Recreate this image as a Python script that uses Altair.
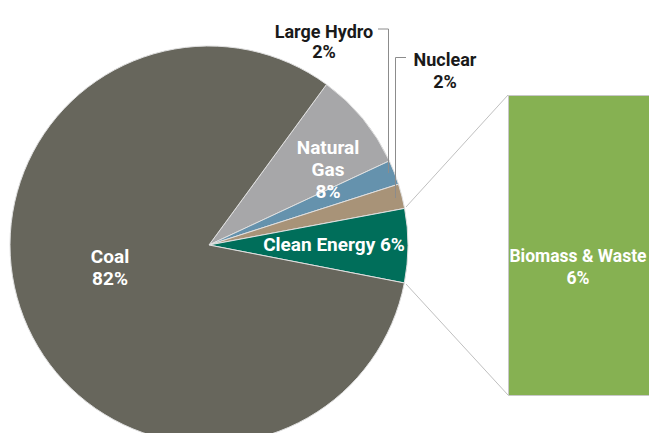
import math
import altair as alt
import pandas as pd

# ---- data ----
categories = ["Natural Gas", "Large Hydro", "Nuclear", "Clean Energy", "Coal"]
shares = [8, 2, 2, 6, 82]
colors = ["#A7A7A9", "#6592AD", "#A89378", "#006E5A", "#67665C"]
breakdown_names = ["Biomass & Waste"]
breakdown_values = [6]

pie_df = pd.DataFrame({"category": categories, "share": shares, "order": list(range(len(categories)))})
bar_df = pd.DataFrame({"name": breakdown_names, "value": breakdown_values})

# chart area = page (657x441) minus the 8px body margin on each side
W, H = 641, 425
CX, CY, R = 201, 237, 199
START = math.radians(36.2)
FONT = "Roboto"
FS = 19
LH = 22

pie = alt.Chart(pie_df).mark_arc(radius=R, stroke="#E0E0E0", strokeWidth=1).encode(
    theta=alt.Theta("share:Q", stack=True, scale=alt.Scale(range=[START, START + 2 * math.pi])),
    order=alt.Order("order:Q"),
    color=alt.Color("category:N", scale=alt.Scale(domain=categories, range=colors), legend=None),
    x=alt.value(CX),
    y=alt.value(CY),
)

labels_df = pie_df.copy()
labels_df["two"] = labels_df["category"] + "\n" + labels_df["share"].astype(str) + "%"
labels_df["one"] = labels_df["category"] + " " + labels_df["share"].astype(str) + "%"
labels_df["gas"] = labels_df["category"].str.replace(" ", "\n") + "\n" + labels_df["share"].astype(str) + "%"


def text_layer(df, field, x, y, color, lh=LH, fs=FS):
    return alt.Chart(df).mark_text(
        font=FONT, fontSize=fs, fontWeight="bold", color=color, lineBreak="\n",
        align="center", baseline="middle", lineHeight=lh
    ).encode(text=alt.Text(field), x=alt.value(x), y=alt.value(y))


coal_t = text_layer(labels_df[labels_df.category == "Coal"], "two", 102, 249, "white")
gas_t = text_layer(labels_df[labels_df.category == "Natural Gas"], "gas", 320, 140, "white")
clean_t = text_layer(labels_df[labels_df.category == "Clean Energy"], "one", 326, 237, "white")
hydro_t = text_layer(labels_df[labels_df.category == "Large Hydro"], "two", 316, 25, "#1A1A1A", 20, 18)
nuc_t = text_layer(labels_df[labels_df.category == "Nuclear"], "two", 437, 53, "#1A1A1A", 22, 18)


def seg(x1, y1, x2, y2, color="#8C8C8C"):
    return alt.Chart(pd.DataFrame({"a": [0]})).mark_rule(color=color, strokeWidth=1).encode(
        x=alt.value(x1), y=alt.value(y1), x2=alt.value(x2), y2=alt.value(y2)
    )


leaders = [
    seg(370, 21, 380.5, 21), seg(380.5, 21, 380.5, 165),
    seg(398, 49.5, 387.5, 49.5), seg(387.5, 49.5, 387.5, 190),
    seg(398, 199, 500, 87, "#C0C0C0"), seg(398, 276, 500, 387, "#C0C0C0"),
]

bar = alt.Chart(bar_df).mark_rect(color="#86B152", stroke="#C8C8C8", strokeWidth=1).encode(
    x=alt.value(500.5), x2=alt.value(700),
    y=alt.Y("value:Q", scale=alt.Scale(domain=[0, 6], range=[387.5, 87.5]), axis=None),
    y2=alt.datum(0),
)
bar_df["txt"] = bar_df["name"] + "\n" + bar_df["value"].astype(str) + "%"
bar_t = alt.Chart(bar_df).mark_text(
    font=FONT, fontSize=17.5, fontWeight="bold", color="white", lineBreak="\n",
    align="center", baseline="middle", lineHeight=LH
).encode(text="txt:N", x=alt.value(570), y=alt.value(249))

chart = alt.layer(pie, *leaders, bar, coal_t, gas_t, clean_t, hydro_t, nuc_t, bar_t).properties(
    width=W, height=H, padding=0, autosize="none"
).configure_view(stroke=None).resolve_scale(color="independent")

chart.save("out.html", embed_options={"renderer": "svg", "actions": False})
